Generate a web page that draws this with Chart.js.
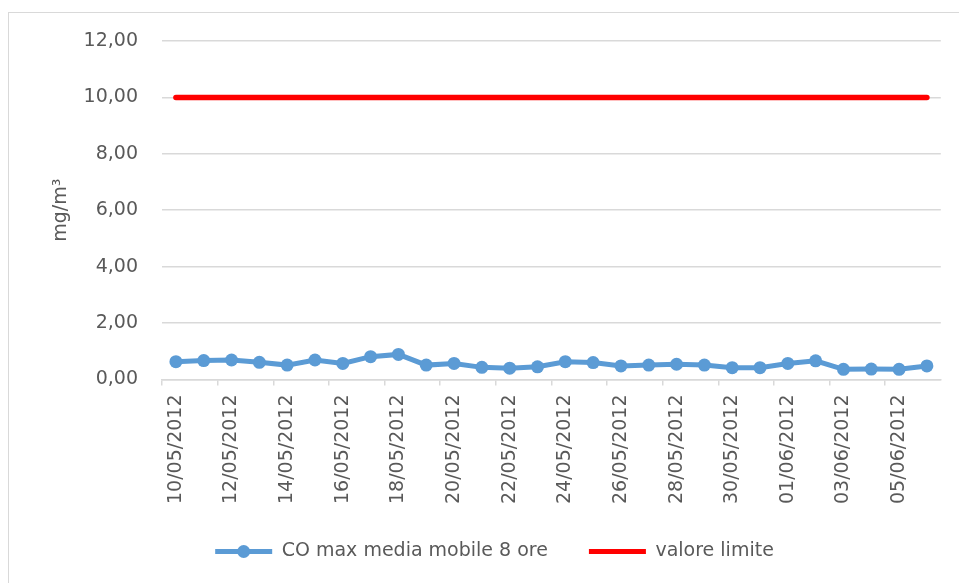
<!DOCTYPE html>
<html>
<head>
<meta charset="utf-8">
<script src="https://cdn.jsdelivr.net/npm/chart.js@4"></script>
<style>
    html, body { margin: 0; padding: 0; background: #fff; overflow: hidden; }
    #frame { position: absolute; left: 8px; top: 12px; width: 1000px; height: 1000px; border: 1px solid #d9d9d9; }
    #wrap { position: absolute; left: 0; top: 0; width: 959px; height: 583px; }
</style>
</head>
<body>
<div id="frame"></div>
<div id="wrap"><canvas id="coChart"></canvas></div>
<script>
// dates 10/05/2012 - 06/06/2012
const dates = [
    '10/05/2012', '11/05/2012', '12/05/2012', '13/05/2012', '14/05/2012', '15/05/2012', '16/05/2012',
    '17/05/2012', '18/05/2012', '19/05/2012', '20/05/2012', '21/05/2012', '22/05/2012', '23/05/2012',
    '24/05/2012', '25/05/2012', '26/05/2012', '27/05/2012', '28/05/2012', '29/05/2012', '30/05/2012',
    '31/05/2012', '01/06/2012', '02/06/2012', '03/06/2012', '04/06/2012', '05/06/2012', '06/06/2012'
];
const coValues = [
    0.63, 0.67, 0.69, 0.61, 0.51, 0.69, 0.57, 0.81, 0.89, 0.51, 0.57, 0.43, 0.40, 0.45,
    0.63, 0.60, 0.48, 0.51, 0.54, 0.51, 0.42, 0.42, 0.57, 0.66, 0.36, 0.37, 0.36, 0.48
];
const limitValues = dates.map(() => 10);
const yTicks = [0, 2, 4, 6, 8, 10, 12];

const textColor = '#595959';
const gridColor = '#d9d9d9';
const fontFamily = '"DejaVu Sans", sans-serif';

// pull the legend a bit closer to the date labels
const legendShift = {
    id: 'legendShift',
    afterLayout(chart) {
        chart.legend.top -= 12;
        chart.legend.bottom -= 12;
    }
};

// draws the round marker on top of the blue legend line
const legendMarker = {
    id: 'legendMarker',
    afterDraw(chart) {
        const box = chart.legend.legendHitBoxes[0];
        if (!box) return;
        const ctx = chart.ctx;
        ctx.save();
        ctx.fillStyle = '#5B9BD5';
        ctx.beginPath();
        ctx.arc(box.left + 57 / 2, box.top + box.height / 2, 6.5, 0, Math.PI * 2);
        ctx.fill();
        ctx.restore();
    }
};

const ctx = document.getElementById('coChart').getContext('2d');
const coChart = new Chart(ctx, {
    type: 'line',
    data: {
        labels: dates,
        datasets: [{
            label: 'CO max media mobile 8 ore',
            data: coValues,
            borderColor: '#5B9BD5',
            backgroundColor: '#5B9BD5',
            borderWidth: 5,
            pointRadius: 6.5,
            pointBorderWidth: 0,
            pointBackgroundColor: '#5B9BD5',
            tension: 0
        }, {
            label: 'valore limite',
            data: limitValues,
            borderColor: '#FF0000',
            backgroundColor: '#FF0000',
            borderWidth: 5.5,
            borderCapStyle: 'round',
            pointRadius: 0,
            tension: 0
        }]
    },
    options: {
        responsive: true,
        maintainAspectRatio: false,
        animation: false,
        layout: {
            padding: { top: 41, left: 47, right: 17, bottom: 0 }
        },
        scales: {
            x: {
                offset: true,
                border: { color: gridColor, width: 1.5 },
                grid: {
                    offset: true,
                    drawOnChartArea: false,
                    drawTicks: true,
                    tickLength: 6,
                    lineWidth: 1.5,
                    color: function(context) {
                        return context.index % 2 === 0 ? gridColor : 'rgba(0,0,0,0)';
                    }
                },
                ticks: {
                    autoSkip: false,
                    maxRotation: 90,
                    minRotation: 90,
                    padding: 9,
                    color: textColor,
                    font: { family: fontFamily, size: 19 },
                    callback: function(value, index) {
                        return index % 2 === 0 ? dates[index] : '';
                    }
                }
            },
            y: {
                min: yTicks[0],
                max: yTicks[yTicks.length - 1],
                afterFit: function(scale) {
                    scale.width = 115;
                },
                border: { display: false },
                grid: {
                    color: gridColor,
                    lineWidth: 1.5,
                    drawTicks: false
                },
                ticks: {
                    stepSize: 2,
                    padding: 24,
                    color: textColor,
                    font: { family: fontFamily, size: 19 },
                    callback: function(value) {
                        return value.toFixed(2).replace('.', ',');
                    }
                },
                title: {
                    display: true,
                    text: 'mg/m\u00B3',
                    color: textColor,
                    font: { family: fontFamily, size: 19 },
                    padding: { top: 3, bottom: 0 }
                }
            }
        },
        plugins: {
            legend: {
                position: 'bottom',
                labels: {
                    boxWidth: 57,
                    boxHeight: 5,
                    padding: 41,
                    color: textColor,
                    font: { family: fontFamily, size: 19 },
                    generateLabels: function(chart) {
                        return chart.data.datasets.map(function(ds, i) {
                            return {
                                text: ds.label,
                                fillStyle: ds.borderColor,
                                strokeStyle: ds.borderColor,
                                lineWidth: 0,
                                fontColor: textColor,
                                datasetIndex: i
                            };
                        });
                    }
                }
            },
            tooltip: { enabled: false }
        }
    },
    plugins: [legendShift, legendMarker]
});
</script>
</body>
</html>
